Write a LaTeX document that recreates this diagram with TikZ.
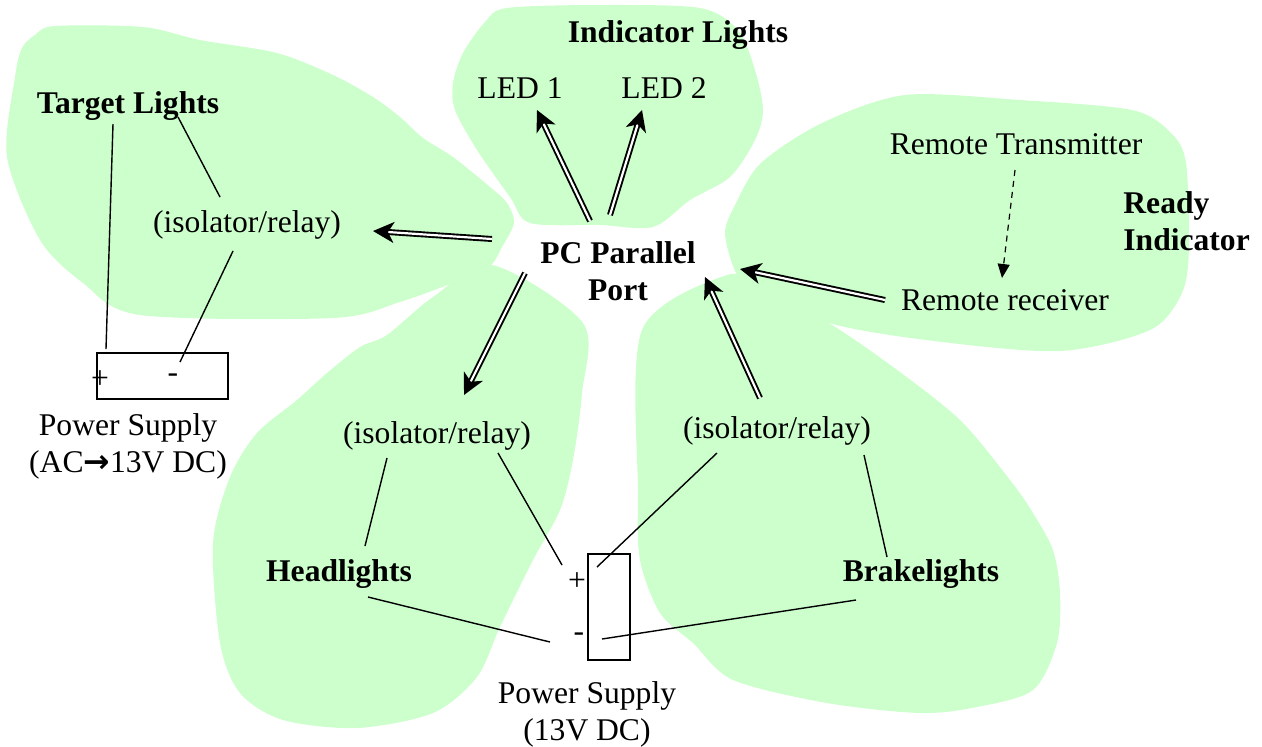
\documentclass[tikz,border=0pt]{standalone}
\usepackage{fontspec}
\setmainfont{Liberation Serif}
\newfontfamily\arrowfont{DejaVu Sans}
\usetikzlibrary{arrows.meta}
\definecolor{blobgreen}{RGB}{204,255,204}
\begin{document}
\begin{tikzpicture}[x=0.5pt,y=-0.5pt,
  blob/.style={fill=blobgreen},
  lbl/.style={inner sep=0pt, font=\fontsize{15.8}{18.5}\selectfont},
  blbl/.style={inner sep=0pt, font=\fontsize{15.8}{18.5}\selectfont\bfseries},
  wire/.style={line width=0.7pt},
  psbox/.style={draw, line width=0.75pt, inner sep=0pt},
  dbl/.style={draw, double, line width=0.95pt, double distance=1.1pt,
    -{Stealth[length=10.5pt,width=10.5pt,inset=3pt]}},
  radio/.style={draw, line width=0.6pt, dash pattern=on 3pt off 2.5pt,
    -{Triangle[length=7pt,width=6pt]}}
]
\useasboundingbox (0,0) rectangle (1262,746);

% blobs
\fill[blob] plot[smooth cycle, tension=0.5] coordinates {
 (55,26) (143,27) (200,40) (277,53) (333,75) (373,97) (400,117) (423,138)
 (453,157) (490,187) (507,203) (514,223) (502,247) (490,266) (460,280)
 (400,302) (333,318) (140,315) (83,283) (40,240) (7,157) (15,77) (22,48) (35,35)};
\fill[blob] plot[smooth cycle, tension=0.5] coordinates {
 (507,8) (600,5) (700,8) (738,30) (755,70) (763,110) (755,140) (730,177)
 (690,200) (653,227) (600,225) (530,223) (510,197) (477,150) (455,110)
 (453,83) (463,53) (485,22)};
\fill[blob] plot[smooth cycle, tension=0.5] coordinates {
 (905,95) (1020,100) (1132,110) (1171,133) (1186,163) (1189,247) (1182,293)
 (1150,330) (1060,351) (934,341) (829,323) (754,288) (736,273) (725,233)
 (736,203) (761,163) (822,123)};
\fill[blob] plot[smooth cycle, tension=0.5] coordinates {
 (492,265) (583,323) (582,393) (573,460) (560,510) (533,560) (500,627)
 (477,677) (433,713) (357,728) (283,720) (240,693) (220,643) (213,543)
 (230,477) (257,433) (297,400) (327,373) (360,347) (387,335) (433,297)};
\fill[blob] plot[smooth cycle, tension=0.5] coordinates {
 (727,275) (760,290) (827,322) (893,367) (960,420) (1010,480) (1033,513)
 (1053,550) (1060,593) (1057,643) (1033,690) (977,707) (920,713) (827,703)
 (733,680) (693,643) (660,613) (640,560) (638,493) (642,330)};

% labels
\node[blbl, anchor=base] (tgt) at (128,113) {Target Lights};
\node[lbl, anchor=base] (iso1) at (247,232) {(isolator/relay)};
\node[blbl, anchor=base] (ind) at (678,42) {Indicator Lights};
\node[lbl, anchor=base] (led1) at (520,98) {LED 1};
\node[lbl, anchor=base] (led2) at (664,98) {LED 2};
\node[lbl, anchor=base] (rtx) at (1016,154) {Remote Transmitter};
\node[blbl, align=left, anchor=west] (ready) at (1123,221) {Ready\\Indicator};
\node[blbl, align=center] (pc) at (618,271) {PC Parallel\\Port};
\node[lbl, anchor=base] (rrx) at (1005,310) {Remote receiver};
\node[lbl, anchor=base] (iso2) at (437,443) {(isolator/relay)};
\node[lbl, anchor=base] (iso3) at (777,438) {(isolator/relay)};
\node[blbl, anchor=base] (head) at (339,581) {Headlights};
\node[blbl, anchor=base] (brake) at (921,581) {Brakelights};

% power supplies
\node[psbox, minimum width=65.5pt, minimum height=23pt] (ps1) at (162.5,376) {};
\node[lbl] (p1plus) at (100,380) {+};
\node[lbl] (p1minus) at (173,378) {-};
\node[lbl, align=center] (ps1lbl) at (128,446) {Power Supply\\(AC{\arrowfont\bfseries →}13V DC)};
\node[psbox, minimum width=21pt, minimum height=53pt] (ps2) at (609,607) {};
\node[lbl] (p2plus) at (577,582) {+};
\node[lbl] (p2minus) at (579,637) {-};
\node[lbl, align=center] (ps2lbl) at (587,714) {Power Supply\\(13V DC)};

% wire end points
\coordinate (w1a) at (113,124); \coordinate (w1b) at (106,349);
\coordinate (w2a) at (178,117); \coordinate (w2b) at (220,197);
\coordinate (w3a) at (233,251); \coordinate (w3b) at (180,362);
\coordinate (w4a) at (387,458); \coordinate (w4b) at (365,546);
\coordinate (w5a) at (498,453); \coordinate (w5b) at (562,565);
\coordinate (w6a) at (368,597); \coordinate (w6b) at (550,642);
\coordinate (w7a) at (717,453); \coordinate (w7b) at (597,567);
\coordinate (w8a) at (864,455); \coordinate (w8b) at (887,557);
\coordinate (w9a) at (856,600); \coordinate (w9b) at (602,639);

\draw[wire] (w1a) -- (w1b);
\draw[wire] (w2a) -- (w2b);
\draw[wire] (w3a) -- (w3b);
\draw[wire] (w4a) -- (w4b);
\draw[wire] (w5a) -- (w5b);
\draw[wire] (w6a) -- (w6b);
\draw[wire] (w7a) -- (w7b);
\draw[wire] (w8a) -- (w8b);
\draw[wire] (w9a) -- (w9b);

% arrow end points
\coordinate (a1a) at (492,239); \coordinate (a1b) at (373,231);
\coordinate (a2a) at (590,221); \coordinate (a2b) at (537,110);
\coordinate (a3a) at (610,215); \coordinate (a3b) at (642,110);
\coordinate (a4a) at (525,273); \coordinate (a4b) at (464,395);
\coordinate (a5a) at (760,398); \coordinate (a5b) at (705,277);
\coordinate (a6a) at (885,300); \coordinate (a6b) at (740,269);
\coordinate (d1a) at (1015,170); \coordinate (d1b) at (1002,278);

\draw[dbl] (a1a) -- (a1b);
\draw[dbl] (a2a) -- (a2b);
\draw[dbl] (a3a) -- (a3b);
\draw[dbl] (a4a) -- (a4b);
\draw[dbl] (a5a) -- (a5b);
\draw[dbl] (a6a) -- (a6b);
\draw[radio] (d1a) -- (d1b);
\end{tikzpicture}
\end{document}
